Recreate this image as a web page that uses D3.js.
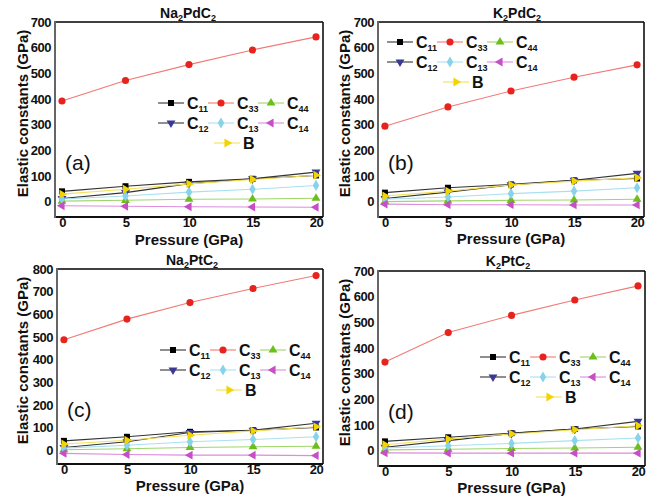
<!DOCTYPE html>
<html>
<head>
<meta charset="utf-8">
<script src="https://cdn.jsdelivr.net/npm/d3@7"></script>
<style>
  body { margin: 0; background: #fff; }
  svg text { font-family: "Liberation Sans", Arial, sans-serif; }
</style>
</head>
<body>
<div id="chart"></div>
<script>
var svgWidth = 666;
var svgHeight = 498;

// x values
var pressure = [0, 5, 10, 15, 20];

// (a) Na2PdC2
var aC11 = [40, 60, 77, 89, 102];
var aC33 = [392, 472, 534, 591, 642];
var aC44 = [2, 5, 9, 10, 13];
var aC12 = [12, 35, 70, 89, 115];
var aC13 = [10, 22, 37, 48, 63];
var aC14 = [-16, -18, -20, -21, -22];
var aB = [29, 48, 69, 86, 103];

// (b) K2PdC2
var bC11 = [35, 54, 67, 83, 90];
var bC33 = [294, 369, 431, 485, 533];
var bC44 = [0, 3, 5, 6, 9];
var bC12 = [12, 37, 65, 83, 110];
var bC13 = [9, 18, 31, 41, 54];
var bC14 = [-10, -12, -12, -13, -13];
var bB = [22, 41, 65, 80, 93];

// (c) Na2PtC2
var cC11 = [42, 60, 82, 89, 101];
var cC33 = [488, 579, 652, 714, 771];
var cC44 = [3, 7, 13, 16, 18];
var cC12 = [13, 38, 79, 89, 120];
var cC13 = [10, 23, 38, 48, 60];
var cC14 = [-13, -18, -21, -21, -23];
var cB = [28, 45, 67, 86, 104];

// (d) K2PtC2
var dC11 = [36, 52, 68, 84, 94];
var dC33 = [345, 460, 527, 587, 642];
var dC44 = [3, 5, 8, 10, 13];
var dC12 = [13, 39, 67, 84, 114];
var dC13 = [10, 19, 28, 39, 49];
var dC14 = [-9, -10, -10, -10, -10];
var dB = [23, 45, 65, 81, 97];

var xTicks = [0, 5, 10, 15, 20];

// series styles, Origin default symbol order
var seriesInfo = [
  { key: "C11", sub: "11", mark: "#000000", line: "#333333", shape: "square" },
  { key: "C33", sub: "33", mark: "#e8231e", line: "#f07a76", shape: "circle" },
  { key: "C44", sub: "44", mark: "#6cbf1a", line: "#9fd66a", shape: "up" },
  { key: "C12", sub: "12", mark: "#3a3a96", line: "#333333", shape: "down" },
  { key: "C13", sub: "13", mark: "#86d3ea", line: "#a9e0f0", shape: "diamond" },
  { key: "C14", sub: "14", mark: "#c64fc6", line: "#dc8ddc", shape: "left" },
  { key: "B", sub: "", mark: "#f2d500", line: "#f5e15a", shape: "right" }
];

var panels = [
  { title: ["Na", "2", "PdC", "2"], letter: "(a)", left: 55, right: 323, top: 22, bottom: 217, ymin: -60, ymax: 700,
    legX: 116, legY: 81, titleX: 188, titleY: 18, xlabY: 245, ylabX: 23,
    series: [aC11, aC33, aC44, aC12, aC13, aC14, aB] },
  { title: ["K", "2", "PdC", "2"], letter: "(b)", left: 378, right: 644, top: 22, bottom: 217, ymin: -60, ymax: 700,
    legX: 22, legY: 20, titleX: 517, titleY: 18, xlabY: 244, ylabX: 345,
    series: [bC11, bC33, bC44, bC12, bC13, bC14, bB] },
  { title: ["Na", "2", "PtC", "2"], letter: "(c)", left: 57, right: 323, top: 269, bottom: 464, ymin: -60, ymax: 800,
    legX: 116, legY: 81, titleX: 192, titleY: 265, xlabY: 491, ylabX: 23,
    series: [cC11, cC33, cC44, cC12, cC13, cC14, cB] },
  { title: ["K", "2", "PtC", "2"], letter: "(d)", left: 378, right: 645, top: 271, bottom: 466, ymin: -60, ymax: 700,
    legX: 115, legY: 86, titleX: 508, titleY: 266, xlabY: 493, ylabX: 345,
    series: [dC11, dC33, dC44, dC12, dC13, dC14, dB] }
];

var svg = d3.select("#chart")
  .append("svg")
  .attr("width", svgWidth)
  .attr("height", svgHeight);

function markerPath(shape) {
  if (shape === "square") return d3.symbol(d3.symbolSquare, 36)();
  if (shape === "circle") return d3.symbol(d3.symbolCircle, 40)();
  if (shape === "diamond") return d3.symbol(d3.symbolDiamond, 36)();
  return d3.symbol(d3.symbolTriangle, 34)();
}

function markerRotate(shape) {
  if (shape === "down") return 180;
  if (shape === "left") return -90;
  if (shape === "right") return 90;
  return 0;
}

function drawMarker(g, s, cx, cy) {
  g.append("path")
    .attr("d", markerPath(s.shape))
    .attr("transform", `translate(${cx},${cy}) rotate(${markerRotate(s.shape)})`)
    .attr("fill", s.mark);
}

function drawPanel(p) {
  var x = d3.scaleLinear().domain([-0.55, 20.55]).range([p.left, p.right]);
  var y = d3.scaleLinear().domain([p.ymin, p.ymax]).range([p.bottom, p.top]);

  var g = svg.append("g");

  // lines
  p.series.forEach(function(vals, i) {
    var s = seriesInfo[i];
    var line = d3.line()
      .x((d, j) => x(pressure[j]))
      .y(d => y(d));
    g.append("path")
      .datum(vals)
      .attr("d", line)
      .attr("fill", "none")
      .attr("stroke", s.line)
      .attr("stroke-width", 1.1);
  });

  // markers
  p.series.forEach(function(vals, i) {
    var s = seriesInfo[i];
    vals.forEach(function(v, j) {
      drawMarker(g, s, x(pressure[j]), y(v));
    });
  });

  // frame
  g.append("line").attr("x1", p.left).attr("x2", p.right).attr("y1", p.top).attr("y2", p.top)
    .attr("stroke", "#000").attr("stroke-width", 1.5);
  g.append("line").attr("x1", p.right).attr("x2", p.right).attr("y1", p.top).attr("y2", p.bottom)
    .attr("stroke", "#000").attr("stroke-width", 1.5);
  g.append("line").attr("x1", p.left).attr("x2", p.right).attr("y1", p.bottom).attr("y2", p.bottom)
    .attr("stroke", "#111").attr("stroke-width", 2);
  g.append("line").attr("x1", p.left).attr("x2", p.left).attr("y1", p.top - 1).attr("y2", p.bottom + 1)
    .attr("stroke", "#666").attr("stroke-width", 2);

  // axes
  var leftAxis = d3.axisLeft(y)
    .tickValues(d3.range(0, p.ymax + 1, 100))
    .tickSize(0)
    .tickPadding(3);
  var bottomAxis = d3.axisBottom(x)
    .tickValues(xTicks)
    .tickSize(0)
    .tickPadding(0);

  var yAxis = g.append("g")
    .attr("transform", `translate(${p.left - 1}, 0)`)
    .call(leftAxis);
  var xAxis = g.append("g")
    .attr("transform", `translate(0, ${p.bottom + 0.5})`)
    .call(bottomAxis);
  [yAxis, xAxis].forEach(function(ax) {
    ax.select(".domain").remove();
    ax.selectAll("text")
      .attr("fill", "#111")
      .style("font-size", "13px")
      .style("font-weight", "bold")
      .style("letter-spacing", "-0.5px")
      .style("font-family", "'Liberation Sans', Arial, sans-serif");
  });

  // axis titles
  g.append("text")
    .attr("x", (p.left + p.right) / 2)
    .attr("y", p.xlabY)
    .attr("text-anchor", "middle")
    .style("font-size", "15px")
    .style("font-weight", "bold")
    .attr("fill", "#111")
    .text("Pressure (GPa)");

  g.append("text")
    .attr("transform", `translate(${p.ylabX}, ${(p.top + p.bottom) / 2 - 6}) rotate(-90)`)
    .attr("dy", "0.35em")
    .attr("text-anchor", "middle")
    .style("font-size", "15px")
    .style("font-weight", "bold")
    .attr("fill", "#111")
    .text("Elastic constants (GPa)");

  // panel title with subscripts
  var t = g.append("text")
    .attr("x", p.titleX)
    .attr("y", p.titleY)
    .attr("text-anchor", "middle")
    .style("font-size", "14px")
    .style("font-weight", "bold")
    .attr("fill", "#111");
  p.title.forEach(function(part, k) {
    var ts = t.append("tspan").text(part);
    if (k % 2 === 1) {
      ts.attr("dy", 3).style("font-size", "9px");
    } else if (k > 0) {
      ts.attr("dy", -3);
    }
  });

  // panel letter
  g.append("text")
    .attr("x", p.left + 10)
    .attr("y", p.top + 148)
    .style("font-size", "21px")
    .attr("fill", "#111")
    .text(p.letter);

  // legend
  var lx = p.left + p.legX;
  var ly = p.top + p.legY;
  var legPos = [[0, 0], [50, 0], [100, 0], [0, 20], [50, 20], [100, 20], [56, 40]];
  seriesInfo.forEach(function(s, i) {
    var cx = lx + legPos[i][0];
    var cy = ly + legPos[i][1];
    g.append("line")
      .attr("x1", cx - 13).attr("x2", cx + 13)
      .attr("y1", cy).attr("y2", cy)
      .attr("stroke", s.line)
      .attr("stroke-width", 1.1);
    drawMarker(g, s, cx, cy);
    var lab = g.append("text")
      .attr("x", cx + 16)
      .attr("y", cy + 5.5)
      .style("font-size", "16px")
      .style("font-weight", "bold")
      .attr("fill", "#111");
    lab.append("tspan").text(s.key.charAt(0));
    if (s.sub) {
      lab.append("tspan")
        .attr("dy", 3)
        .style("font-size", "9px")
        .text(s.sub);
    }
  });
}

panels.forEach(drawPanel);
</script>
</body>
</html>
